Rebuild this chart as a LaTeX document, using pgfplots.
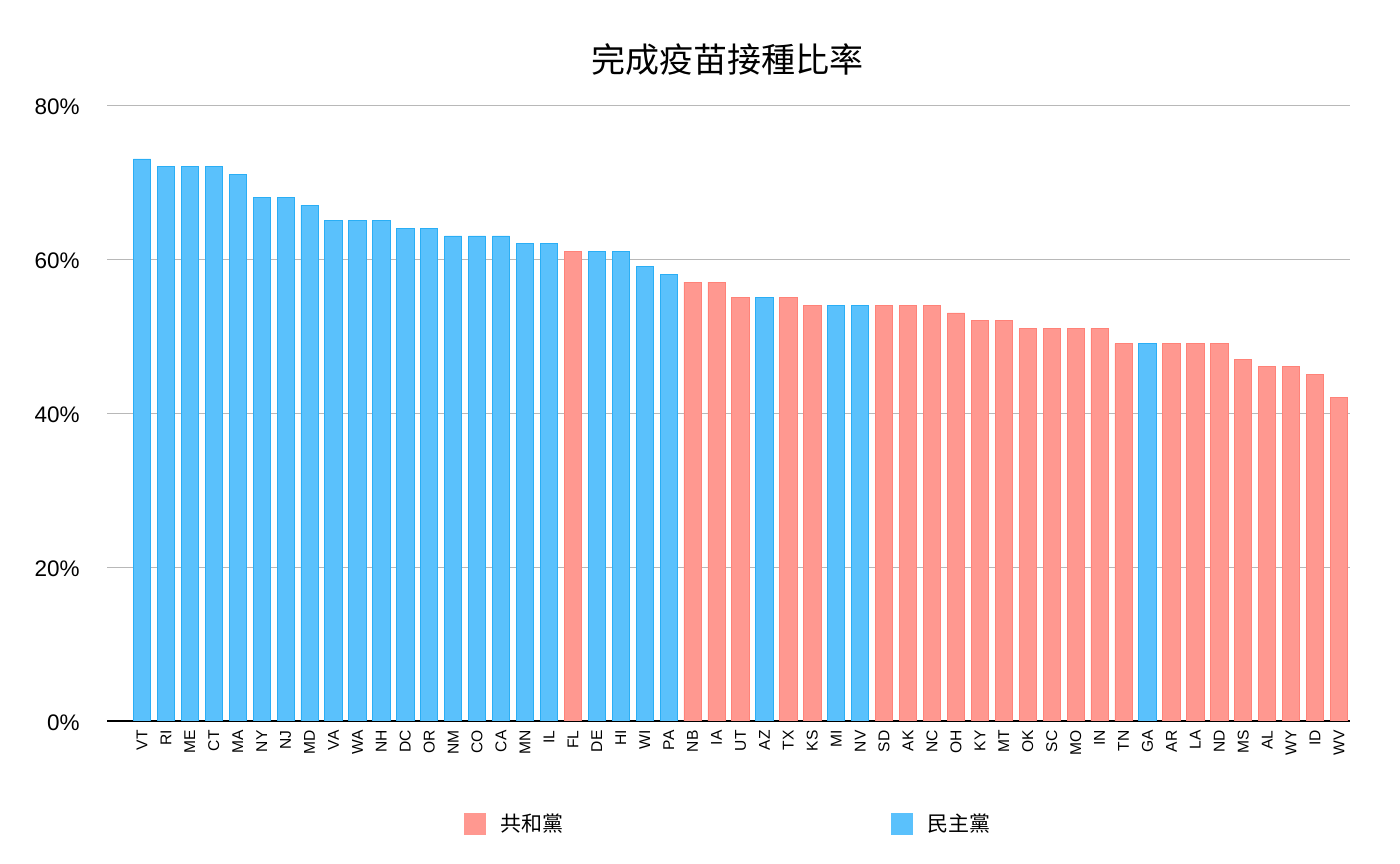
\documentclass[border=0pt]{standalone}
\usepackage{pgfplots}
\pgfplotsset{compat=1.18}
\usepackage{fontspec}
\setmainfont{Liberation Sans}
\newfontfamily\cjk{Noto Sans CJK TC}
\definecolor{repfill}{HTML}{FF9890}
\definecolor{repdraw}{HTML}{FF8278}
\definecolor{demfill}{HTML}{5AC1FC}
\definecolor{demdraw}{HTML}{2AAEF5}
\definecolor{gridgray}{HTML}{B8B8B8}
\begin{document}
\begin{tikzpicture}
\useasboundingbox (0,0) rectangle (700bp,432bp);
\begin{axis}[
  at={(53.5bp,71.5bp)}, anchor=south west,
  scale only axis, width=621.5bp, height=308bp,
  xmin=-1.46, xmax=50.46, ymin=0, ymax=80,
  axis line style={draw=none},
  major tick length=0pt,
  ybar, bar width=8.6bp, bar shift=0pt,
  ytick={0,20,40,60,80},
  yticklabels={0\%,20\%,40\%,60\%,80\%},
  yticklabel style={font=\fontsize{11.25bp}{13bp}\selectfont, anchor=east, inner sep=0pt, xshift=-13.5bp, yshift=-1bp},
  ymajorgrids, grid style={gridgray, line width=0.5bp},
  extra y ticks={0}, extra y tick labels={},
  extra y tick style={grid style={black, line width=1bp}},
  xtick={0,...,50},
  xticklabels={VT,RI,ME,CT,MA,NY,NJ,MD,VA,WA,NH,DC,OR,NM,CO,CA,MN,IL,FL,DE,HI,WI,PA,NB,IA,UT,AZ,TX,KS,MI,NV,SD,AK,NC,OH,KY,MT,OK,SC,MO,IN,TN,GA,AR,LA,ND,MS,AL,WY,ID,WV},
  xticklabel style={font=\fontsize{7.8bp}{9bp}\selectfont, rotate=90, anchor=east, inner sep=4.5bp},
  title={\cjk 完成疫苗接種比率},
  title style={at={(0.4988,1.0536)}, anchor=center, font=\fontsize{17bp}{20bp}\selectfont, inner sep=0pt},
  legend columns=2,
  legend style={at={(0.499,-0.167)}, anchor=center, draw=none, fill=none,
    font=\fontsize{10.5bp}{12bp}\selectfont\cjk,
    /tikz/every even column/.append style={column sep=164bp},
    nodes={inner sep=0pt}},
  legend cell align=left,
]
\addplot[fill=repfill, draw=repdraw, line width=0.4bp,
  legend image code/.code={\fill[repfill] (0bp,-5.25bp) rectangle (10.5bp,5.25bp); \path (17.5bp,0);}]
  coordinates {(18,61) (23,57) (24,57) (25,55) (27,55) (28,54) (31,54) (32,54) (33,54) (34,53) (35,52) (36,52) (37,51) (38,51) (39,51) (40,51) (41,49) (43,49) (44,49) (45,49) (46,47) (47,46) (48,46) (49,45) (50,42)};
\addlegendentry{共和黨}
\addplot[fill=demfill, draw=demdraw, line width=0.4bp,
  legend image code/.code={\fill[demfill] (0bp,-5.25bp) rectangle (10.5bp,5.25bp); \path (17.5bp,0);}]
  coordinates {(0,73) (1,72) (2,72) (3,72) (4,71) (5,68) (6,68) (7,67) (8,65) (9,65) (10,65) (11,64) (12,64) (13,63) (14,63) (15,63) (16,62) (17,62) (19,61) (20,61) (21,59) (22,58) (26,55) (29,54) (30,54) (42,49)};
\addlegendentry{民主黨}
\end{axis}
\end{tikzpicture}
\end{document}
